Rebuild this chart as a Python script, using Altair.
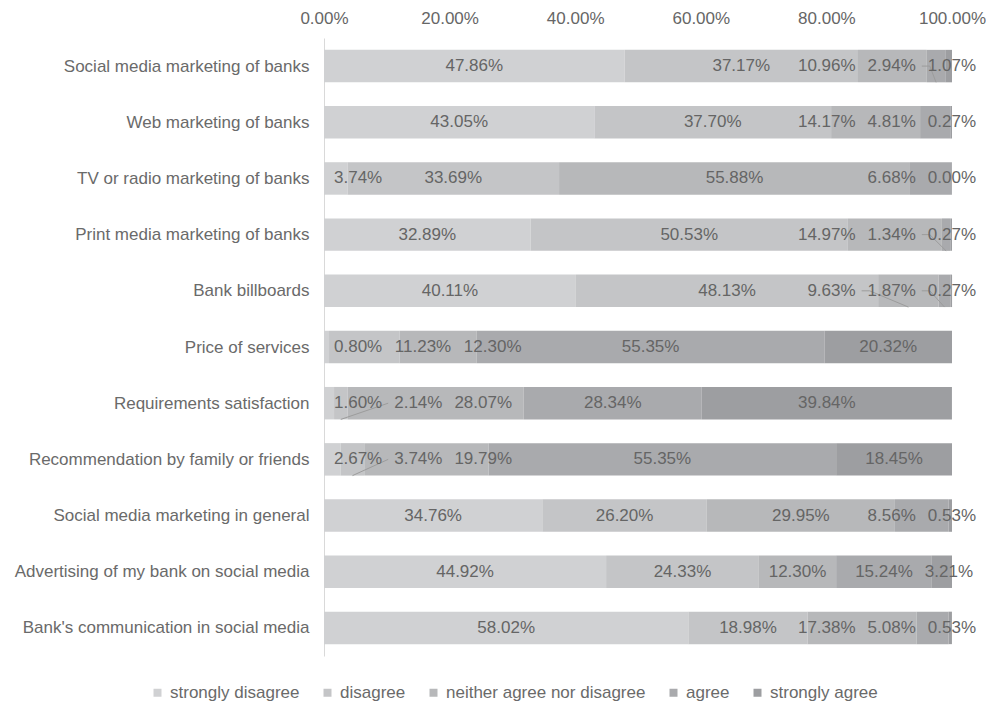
import json
import altair as alt
import pandas as pd

# ---------------- data ----------------
categories = [
    "Social media marketing of banks",
    "Web marketing of banks\u00a0",
    "TV or radio marketing of banks",
    "Print media marketing of banks",
    "Bank billboards\u00a0",
    "Price of services",
    "Requirements satisfaction",
    "Recommendation by family or friends",
    "Social media marketing in general",
    "Advertising of my bank on social media",
    "Bank's communication in social media",
]
series_names = ["strongly disagree", "disagree", "neither agree nor disagree", "agree", "strongly agree"]
strongly_disagree = [47.86, 43.05, 3.74, 32.89, 40.11, 0.80, 1.60, 2.67, 34.76, 44.92, 58.02]
disagree = [37.17, 37.70, 33.69, 50.53, 48.13, 11.23, 2.14, 3.74, 26.20, 24.33, 18.98]
neither = [10.96, 14.17, 55.88, 14.97, 9.63, 12.30, 28.07, 19.79, 29.95, 12.30, 17.38]
agree = [2.94, 4.81, 6.68, 1.34, 1.87, 55.35, 28.34, 55.35, 8.56, 15.24, 5.08]
strongly_agree = [1.07, 0.27, 0.00, 0.27, 0.27, 20.32, 39.84, 18.45, 0.53, 3.21, 0.53]
x_ticks = [0, 20, 40, 60, 80, 100]
colors = ["#d0d1d3", "#c4c5c7", "#b7b8ba", "#a9aaad", "#9d9ea1"]

series_vals = [strongly_disagree, disagree, neither, agree, strongly_agree]

# ---------------- layout helpers ----------------
PLOT_W = 628
PLOT_H = 618
PX = PLOT_W / 100.0
FS = 17
HALF = 0.289
GAP = 12
LEFT_MIN = 10
RIGHT_MAX = 652
CW = {c: 0.556 for c in "0123456789"}
CW["."] = 0.278
CW["%"] = 0.889


def tw(s):
    return sum(CW.get(c, 0.556) for c in s) * FS


bars, labels, leaders = [], [], []
lid = 0
for i, cat in enumerate(categories):
    vals = [s[i] for s in series_vals]
    starts = []
    acc = 0.0
    for v in vals:
        starts.append(acc)
        acc += v
    texts = [f"{v:.2f}%" for v in vals]
    ws = [tw(t) for t in texts]
    centers = [(s + v / 2) * PX for s, v in zip(starts, vals)]
    pos = centers[:]
    pos[0] = max(pos[0], LEFT_MIN + ws[0] / 2)
    for j in range(1, 5):
        pos[j] = max(pos[j], pos[j - 1] + ws[j - 1] / 2 + GAP + ws[j] / 2)
    pos[4] = min(pos[4], RIGHT_MAX - ws[4] / 2)
    for j in range(3, -1, -1):
        pos[j] = min(pos[j], pos[j + 1] - ws[j + 1] / 2 - GAP - ws[j] / 2)
    for j in range(5):
        s, v = starts[j], vals[j]
        bars.append(dict(idx=i, series=series_names[j], start=s, end=s + v,
                         y0=i - HALF, y1=i + HALF))
        labels.append(dict(idx=i, x=pos[j] / PX, text=texts[j]))
        seg_l, seg_r = s * PX, (s + v) * PX
        lab_l, lab_r = pos[j] - ws[j] / 2, pos[j] + ws[j] / 2
        pts = None
        if lab_r < seg_l - 6:
            if centers[j] > lab_r + 20:
                pts = [(lab_r + 6, i), (lab_r + 14, i), (centers[j], i + HALF)]
            else:
                pts = [(lab_r + 6, i), (centers[j], i + HALF)]
        elif lab_l > seg_r + 6:
            pts = [(lab_l - 6, i), (centers[j], i + HALF)]
        if pts:
            for k, (px, py) in enumerate(pts):
                leaders.append(dict(lid=lid, k=k, x=px / PX, y=py))
            lid += 1

bars_df = pd.DataFrame(bars)
labels_df = pd.DataFrame(labels)
leaders_df = pd.DataFrame(leaders)

# ---------------- scales / axes ----------------
xscale = alt.Scale(domain=[0, 100], nice=False, zero=False)
yscale = alt.Scale(domain=[-0.5, len(categories) - 0.5], reverse=True, nice=False, zero=False)

xaxis = alt.Axis(orient="top", values=x_ticks, labelExpr="format(datum.value, '.2f') + '%'",
                 domain=False, ticks=False, tickSize=0, grid=False, title=None, labelFlush=False,
                 labelFontSize=FS, labelColor="#666666", labelPadding=11, labelFont="Liberation Sans")
yaxis = alt.Axis(values=list(range(len(categories))),
                 labelExpr=json.dumps(categories) + "[datum.value]",
                 domain=True, domainColor="#d9d9d9", domainWidth=1,
                 ticks=False, tickSize=0, grid=False, title=None,
                 labelFontSize=FS, labelColor="#6a6a6a", labelPadding=15, labelLimit=400,
                 labelFont="Liberation Sans")

bar_layer = alt.Chart(bars_df).mark_rect().encode(
    x=alt.X("start:Q", scale=xscale, axis=xaxis),
    x2="end:Q",
    y=alt.Y("y0:Q", scale=yscale, axis=yaxis),
    y2="y1:Q",
    color=alt.Color("series:N",
                    scale=alt.Scale(domain=series_names, range=colors),
                    legend=alt.Legend(orient="none", legendX=-175, legendY=646,
                                      direction="horizontal", columns=5, title=None,
                                      symbolType="square", symbolSize=64, symbolStrokeWidth=0,
                                      labelFontSize=FS, labelColor="#6a6a6a", labelLimit=400,
                                      labelFont="Liberation Sans",
                                      columnPadding=19, labelOffset=4)),
)

leader_layer = alt.Chart(leaders_df).mark_line(color="#9c9c9c", strokeWidth=1).encode(
    x=alt.X("x:Q", scale=xscale, axis=xaxis),
    y=alt.Y("y:Q", scale=yscale, axis=yaxis),
    detail="lid:N",
    order="k:Q",
)

text_layer = alt.Chart(labels_df).mark_text(
    fontSize=FS, color="#656565", font="Liberation Sans", align="center", baseline="middle"
).encode(
    x=alt.X("x:Q", scale=xscale, axis=xaxis),
    y=alt.Y("idx:Q", scale=yscale, axis=yaxis),
    text="text:N",
)

chart = alt.layer(bar_layer, leader_layer, text_layer).properties(
    width=PLOT_W,
    height=PLOT_H,
    autosize=alt.AutoSizeParams(type="none"),
    padding={"left": 316, "top": 30, "right": 34, "bottom": 45},
).configure(font="Liberation Sans").configure_view(stroke=None)

chart.save("out.html", embed_options={"renderer": "svg", "actions": False})
